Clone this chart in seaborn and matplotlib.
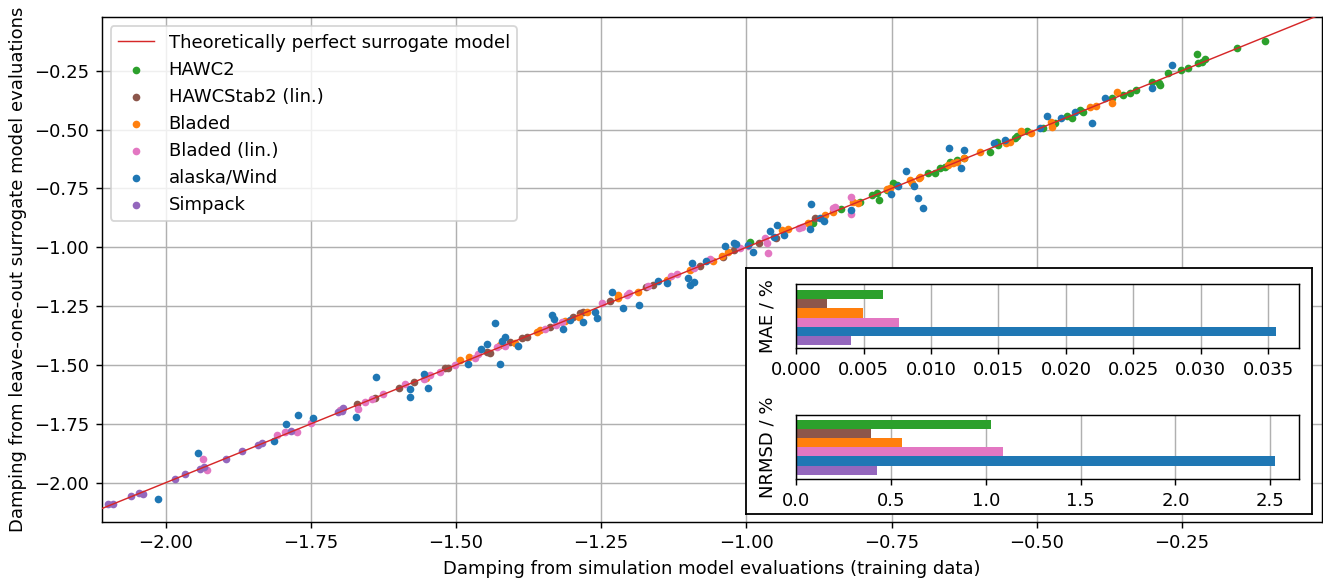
import matplotlib
matplotlib.use("Agg")
import matplotlib.pyplot as plt
import seaborn as sns

# ---------------- data ----------------
solver_names = ["HAWC2", "HAWCStab2 (lin.)", "Bladed", "Bladed (lin.)", "alaska/Wind", "Simpack"]
solver_colors = ["#2ca02c", "#8c564b", "#ff7f0e", "#e377c2", "#1f77b4", "#9467bd"]

hawc2_x = [-0.994, -0.885, -0.837, -0.804, -0.784, -0.775, -0.772, -0.758, -0.748, -0.741, -0.687, -0.675,
           -0.666, -0.658, -0.649, -0.638, -0.626, -0.580, -0.566, -0.569, -0.537, -0.534, -0.517, -0.489,
           -0.468, -0.448, -0.440, -0.425, -0.420, -0.371, -0.351, -0.339, -0.329, -0.302, -0.290, -0.288,
           -0.273, -0.252, -0.239, -0.224, -0.222, -0.216, -0.210, -0.155, -0.106]
hawc2_y = [-0.976, -0.898, -0.839, -0.806, -0.778, -0.771, -0.799, -0.757, -0.726, -0.735, -0.686, -0.683,
           -0.664, -0.658, -0.636, -0.629, -0.619, -0.594, -0.566, -0.551, -0.537, -0.526, -0.506, -0.492,
           -0.473, -0.441, -0.452, -0.417, -0.427, -0.365, -0.353, -0.346, -0.332, -0.297, -0.303, -0.311,
           -0.261, -0.247, -0.240, -0.180, -0.218, -0.212, -0.201, -0.152, -0.124]

hawcstab2_x = [-1.670, -1.640, -1.599, -1.572, -1.519, -1.513, -1.447, -1.441, -1.407, -1.387, -1.378, -1.338,
               -1.298, -1.286, -1.281, -1.235, -1.172, -1.160, -1.080, -1.040, -1.022, -0.979, -0.949, -0.882]
hawcstab2_y = [-1.667, -1.642, -1.599, -1.571, -1.514, -1.512, -1.444, -1.448, -1.401, -1.387, -1.382, -1.340,
               -1.297, -1.280, -1.276, -1.227, -1.167, -1.160, -1.080, -1.040, -1.012, -0.981, -0.962, -0.877]

bladed_x = [-1.551, -1.493, -1.477, -1.424, -1.398, -1.361, -1.355, -1.312, -1.289, -1.275, -1.221, -1.221,
            -1.186, -1.137, -1.097, -1.057, -1.042, -1.031, -0.939, -0.928, -0.894, -0.865, -0.850, -0.816,
            -0.807, -0.758, -0.753, -0.718, -0.715, -0.702, -0.701, -0.652, -0.644, -0.638, -0.626, -0.598,
            -0.553, -0.546, -0.527, -0.510, -0.476, -0.474, -0.408, -0.397, -0.371, -0.361]
bladed_y = [-1.557, -1.479, -1.465, -1.415, -1.408, -1.359, -1.351, -1.312, -1.297, -1.274, -1.203, -1.217,
            -1.189, -1.139, -1.096, -1.057, -1.037, -1.019, -0.927, -0.922, -0.898, -0.863, -0.849, -0.806,
            -0.811, -0.754, -0.749, -0.714, -0.728, -0.704, -0.700, -0.650, -0.643, -0.636, -0.622, -0.594,
            -0.556, -0.551, -0.506, -0.513, -0.469, -0.488, -0.403, -0.400, -0.388, -0.339]

bladed_lin_x = [-1.935, -1.929, -1.809, -1.795, -1.774, -1.750, -1.700, -1.669, -1.657, -1.645, -1.625, -1.588,
                -1.556, -1.545, -1.528, -1.502, -1.467, -1.462, -1.430, -1.416, -1.347, -1.327, -1.318, -1.249,
                -1.206, -1.202, -1.169, -1.129, -1.120, -1.091, -1.063, -1.011, -0.997, -0.968, -0.965, -0.962,
                -0.909, -0.905, -0.850, -0.847, -0.820, -0.820]
bladed_lin_y = [-1.901, -1.946, -1.799, -1.785, -1.785, -1.748, -1.691, -1.688, -1.659, -1.646, -1.625, -1.582,
                -1.561, -1.543, -1.531, -1.500, -1.472, -1.453, -1.422, -1.419, -1.348, -1.330, -1.316, -1.238,
                -1.203, -1.195, -1.164, -1.122, -1.115, -1.089, -1.051, -1.004, -0.995, -0.962, -0.981, -1.023,
                -0.917, -0.913, -0.834, -0.830, -0.788, -0.859]

alaska_x = [-2.014, -1.944, -1.814, -1.793, -1.772, -1.746, -1.673, -1.637, -1.579, -1.579, -1.555, -1.548,
            -1.479, -1.457, -1.447, -1.433, -1.425, -1.420, -1.416, -1.393, -1.335, -1.331, -1.315, -1.304,
            -1.281, -1.261, -1.258, -1.232, -1.213, -1.185, -1.153, -1.136, -1.100, -1.097, -1.091, -1.094,
            -1.070, -1.037, -1.022, -1.017, -0.988, -0.997, -0.960, -0.947, -0.935, -0.952, -0.889, -0.890,
            -0.873, -0.866, -0.819, -0.751, -0.739, -0.725, -0.712, -0.704, -0.695, -0.651, -0.631, -0.625,
            -0.573, -0.555, -0.495, -0.483, -0.458, -0.434, -0.405, -0.382, -0.302, -0.267]
alaska_y = [-2.071, -1.875, -1.823, -1.751, -1.712, -1.725, -1.720, -1.550, -1.602, -1.637, -1.538, -1.599,
            -1.496, -1.433, -1.412, -1.323, -1.497, -1.397, -1.382, -1.418, -1.286, -1.306, -1.347, -1.309,
            -1.317, -1.274, -1.300, -1.189, -1.258, -1.244, -1.142, -1.153, -1.132, -1.160, -1.149, -1.065,
            -1.058, -0.993, -0.983, -0.986, -1.019, -0.990, -0.930, -0.905, -0.948, -0.958, -0.817, -0.921,
            -0.877, -0.887, -0.842, -0.774, -0.740, -0.675, -0.740, -0.791, -0.832, -0.578, -0.664, -0.588,
            -0.556, -0.544, -0.495, -0.442, -0.450, -0.424, -0.473, -0.367, -0.325, -0.226]

simpack_x = [-2.100, -2.090, -2.059, -2.046, -2.039, -1.984, -1.967, -1.941, -1.934, -1.897, -1.868, -1.841,
             -1.835, -1.784, -1.703, -1.697, -1.694]
simpack_y = [-2.091, -2.091, -2.055, -2.042, -2.049, -1.984, -1.964, -1.942, -1.932, -1.898, -1.867, -1.840,
             -1.833, -1.780, -1.700, -1.695, -1.681]

perfect_line = [-2.2, 0.0]

mae_values = [0.00647, 0.00232, 0.00499, 0.00766, 0.03557, 0.00404]
nrmsd_values = [1.029, 0.397, 0.556, 1.092, 2.527, 0.429]

main_ticks = [-2.00, -1.75, -1.50, -1.25, -1.00, -0.75, -0.50, -0.25]
mae_ticks = [0.000, 0.005, 0.010, 0.015, 0.020, 0.025, 0.030, 0.035]
nrmsd_ticks = [0.0, 0.5, 1.0, 1.5, 2.0, 2.5]

# ---------------- style ----------------
plt.rcParams.update({
    "font.family": ["DejaVu Sans"],
    "font.size": 10,
    "axes.unicode_minus": True,
})

DPI = 130
fig = plt.figure(figsize=(1323 / DPI, 581 / DPI), dpi=DPI)

ax = fig.add_axes([0.0769, 0.1021, 0.9989 - 0.0769, 0.9702 - 0.1021])
ax.set_axisbelow(True)
ax.grid(True, color="#b0b0b0", linewidth=0.8)

sns.lineplot(x=perfect_line, y=perfect_line, color="#d62728", linewidth=0.8,
             label="Theoretically perfect surrogate model", ax=ax, zorder=3)

series = [
    (hawc2_x, hawc2_y),
    (hawcstab2_x, hawcstab2_y),
    (bladed_x, bladed_y),
    (bladed_lin_x, bladed_lin_y),
    (alaska_x, alaska_y),
    (simpack_x, simpack_y),
]
for (xs, ys), name, col in zip(series, solver_names, solver_colors):
    sns.scatterplot(x=xs, y=ys, color=col, s=18, linewidth=0, label=name, ax=ax, zorder=2)

ax.set_xlim(-2.1102, -0.0094)
ax.set_ylim(-2.1657, -0.0230)
ax.set_xticks(main_ticks)
ax.set_yticks(main_ticks)
ax.set_xlabel("Damping from simulation model evaluations (training data)")
ax.set_ylabel("Damping from leave-one-out surrogate model evaluations")
for sp in ax.spines.values():
    sp.set_color("black")
ax.legend(loc="upper left")

# ---------------- inset ----------------
box = fig.add_axes([0.5639, 0.1145, 0.9915 - 0.5639, 0.5379 - 0.1145])
box.set_zorder(5)
box.set_facecolor("white")
box.set_xticks([])
box.set_yticks([])
for sp in box.spines.values():
    sp.set_color("black")
    sp.set_linewidth(1.0)

def bar_inset(rect, values, ticks, xlim, ylim, label):
    a = fig.add_axes(rect)
    a.set_zorder(6)
    a.set_axisbelow(True)
    sns.barplot(x=values, y=solver_names, hue=solver_names, palette=solver_colors,
                orient="h", width=1.0, saturation=1, legend=False, ax=a)
    a.grid(True, axis="x", color="#b0b0b0", linewidth=0.8)
    a.grid(False, axis="y")
    a.set_yticks([])
    a.set_xticks(ticks)
    a.set_xlim(*xlim)
    a.set_ylim(*ylim)
    a.set_xlabel("")
    a.set_ylabel(label, labelpad=11)
    for sp in a.spines.values():
        sp.set_color("black")
    return a

bar_inset([0.6017, 0.4002, 0.9821 - 0.6017, 0.5112 - 0.4002], mae_values, mae_ticks,
          (0, 0.0373), (5.85, -1.14), "MAE / %")
bar_inset([0.6017, 0.1756, 0.9821 - 0.6017, 0.2857 - 0.1756], nrmsd_values, nrmsd_ticks,
          (0, 2.653), (5.96, -1.03), "NRMSD / %")

fig.savefig("out.png", dpi=DPI)
